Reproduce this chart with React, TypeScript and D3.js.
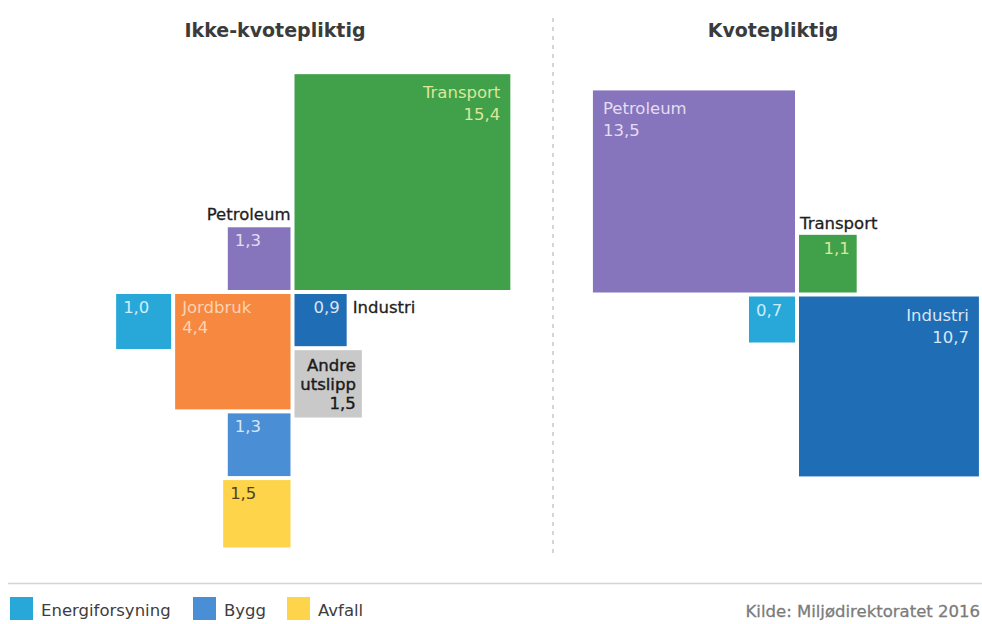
import React from "react";
import * as d3 from "d3";

// ---- Data ----
const panelTitles = ["Ikke-kvotepliktig", "Kvotepliktig"];
const leftCategories = ["Transport", "Petroleum", "Jordbruk", "Energiforsyning", "Bygg", "Avfall", "Industri", "Andre utslipp"];
const leftValues = [15.4, 1.3, 4.4, 1.0, 1.3, 1.5, 0.9, 1.5];
const rightCategories = ["Petroleum", "Transport", "Energiforsyning", "Industri"];
const rightValues = [13.5, 1.1, 0.7, 10.7];
const legendItems = ["Energiforsyning", "Bygg", "Avfall"];
const sourceText = "Kilde: Miljødirektoratet 2016";

// ---- Styles ----
const colors: Record<string, string> = {
  Transport: "#41a04a",
  Petroleum: "#8675bd",
  Jordbruk: "#f6883f",
  Energiforsyning: "#27a8d9",
  Bygg: "#4a8fd5",
  Avfall: "#fdd44a",
  Industri: "#1f6db5",
  "Andre utslipp": "#c9c9c9",
};
const textOn: Record<string, string> = {
  Transport: "#dbe79a",
  Petroleum: "#e4dcf3",
  Jordbruk: "#fcd3b3",
  Energiforsyning: "#cdeefa",
  Bygg: "#d6e6f8",
  Avfall: "#4f4420",
  Industri: "#d7e6f6",
  "Andre utslipp": "#1a1a1a",
};

const FONT = "'DejaVu Sans', 'Noto Sans', sans-serif";
const fmt = (v: number) => v.toFixed(1).replace(".", ",");

const side = d3.scaleSqrt().domain([0, 16]).range([0, 4 * 55]);
const GAP = 4;

type Rule = { quad?: "ul" | "ur" | "ll" | "lr"; after?: string; dir?: "left" | "down" };
type Lbl = {
  inside: "tl" | "tr";
  nameInside?: boolean;
  nameOut?: "aboveRight" | "aboveLeft" | "right";
  multi?: string[];
};

const leftRules: Record<string, Rule> = {
  Transport: { quad: "ur" },
  Petroleum: { quad: "ul" },
  Jordbruk: { quad: "ll" },
  Energiforsyning: { after: "Jordbruk", dir: "left" },
  Bygg: { after: "Jordbruk", dir: "down" },
  Avfall: { after: "Bygg", dir: "down" },
  Industri: { quad: "lr" },
  "Andre utslipp": { after: "Industri", dir: "down" },
};
const leftLabels: Record<string, Lbl> = {
  Transport: { inside: "tr", nameInside: true },
  Petroleum: { inside: "tl", nameOut: "aboveRight" },
  Jordbruk: { inside: "tl", nameInside: true },
  Energiforsyning: { inside: "tl" },
  Bygg: { inside: "tl" },
  Avfall: { inside: "tl" },
  Industri: { inside: "tr", nameOut: "right" },
  "Andre utslipp": { inside: "tr", multi: ["Andre", "utslipp"] },
};
const rightRules: Record<string, Rule> = {
  Petroleum: { quad: "ul" },
  Transport: { quad: "ur" },
  Energiforsyning: { quad: "ll" },
  Industri: { quad: "lr" },
};
const rightLabels: Record<string, Lbl> = {
  Petroleum: { inside: "tl", nameInside: true },
  Transport: { inside: "tr", nameOut: "aboveLeft" },
  Energiforsyning: { inside: "tl" },
  Industri: { inside: "tr", nameInside: true },
};

type Box = { name: string; value: number; x: number; y: number; s: number };

function layout(cats: string[], vals: number[], rules: Record<string, Rule>, cx: number, cy: number): Box[] {
  const placed: Record<string, Box> = {};
  const g = GAP / 2;
  cats.forEach((name, i) => {
    const s = side(vals[i]);
    const r = rules[name];
    let x = 0, y = 0;
    if (r.quad) {
      x = r.quad[1] === "l" ? cx - g - s : cx + g;
      y = r.quad[0] === "u" ? cy - g - s : cy + g;
    } else if (r.after) {
      const p = placed[r.after];
      if (r.dir === "down") {
        y = p.y + p.s + GAP;
        x = p.x + p.s <= cx ? p.x + p.s - s : p.x;
      } else {
        x = p.x - GAP - s;
        y = p.y;
      }
    }
    placed[name] = { name, value: vals[i], x, y, s };
  });
  return cats.map((c) => placed[c]);
}

function Panel({ boxes, labels }: { boxes: Box[]; labels: Record<string, Lbl> }) {
  return (
    <g>
      {boxes.map((b) => (
        <rect key={"r" + b.name} x={b.x} y={b.y} width={b.s} height={b.s} fill={colors[b.name]} />
      ))}
      {boxes.map((b) => {
        const l = labels[b.name];
        const big = b.s > 150;
        const padX = big ? 10 : 7;
        const base = big ? 24 : 19;
        const lh = big ? 22 : 20;
        const anchor = l.inside === "tr" ? "end" : "start";
        const tx = l.inside === "tr" ? b.x + b.s - padX : b.x + padX;
        const lines: string[] = [];
        if (l.multi) lines.push(...l.multi);
        else if (l.nameInside) lines.push(b.name);
        lines.push(fmt(b.value));
        const dark = b.name === "Andre utslipp";
        const out: React.ReactNode[] = [];
        lines.forEach((t, i) =>
          out.push(
            <text
              key={"t" + b.name + i}
              x={dark ? tx + 1 : tx}
              y={b.y + (dark ? 21 : base) + i * (dark ? 19 : lh)}
              textAnchor={anchor}
              fill={textOn[b.name]}
              fontSize={16.5}
              fontFamily={FONT}
              stroke={dark ? textOn[b.name] : "none"}
              strokeWidth={dark ? 0.4 : 0}
            >
              {t}
            </text>
          )
        );
        if (l.nameOut) {
          let nx = 0, ny = 0, na: "start" | "end" = "start";
          if (l.nameOut === "aboveRight") { nx = b.x + b.s; ny = b.y - 7; na = "end"; }
          if (l.nameOut === "aboveLeft") { nx = b.x + 1; ny = b.y - 6; na = "start"; }
          if (l.nameOut === "right") { nx = b.x + b.s + 6; ny = b.y + base; na = "start"; }
          out.push(
            <text key={"n" + b.name} x={nx} y={ny} textAnchor={na} fill="#1e1e1e" fontSize={16.5} fontFamily={FONT} stroke="#1e1e1e" strokeWidth={0.3}>
              {b.name}
            </text>
          );
        }
        return <g key={"g" + b.name}>{out}</g>;
      })}
    </g>
  );
}

export default function App() {
  const W = 982, H = 624;
  const leftBoxes = layout(leftCategories, leftValues, leftRules, 292.5, 292);
  const rightBoxes = layout(rightCategories, rightValues, rightRules, 797, 294.5);
  const legendX = [10, 193, 287];
  return (
    <svg width={W} height={H} style={{ position: "absolute", left: 0, top: 0, background: "#fff" }}>
      <rect width={W} height={H} fill="#fff" />
      <text x={275} y={37} textAnchor="middle" fontSize={19} fontWeight="bold" fill="#3b3b3b" fontFamily={FONT}>
        {panelTitles[0]}
      </text>
      <text x={773} y={37} textAnchor="middle" fontSize={19} fontWeight="bold" fill="#3b3b3b" fontFamily={FONT}>
        {panelTitles[1]}
      </text>
      <line x1={553} x2={553} y1={18} y2={556} stroke="#c8c8c8" strokeWidth={1.5} strokeDasharray="4 5" />
      <Panel boxes={leftBoxes} labels={leftLabels} />
      <Panel boxes={rightBoxes} labels={rightLabels} />
      <line x1={8} x2={982} y1={583.5} y2={583.5} stroke="#d4d4d4" strokeWidth={1.5} />
      {legendItems.map((name, i) => (
        <g key={name}>
          <rect x={legendX[i]} y={597} width={23} height={23} fill={colors[name]} />
          <text x={legendX[i] + 31} y={616} fontSize={16.5} fill="#3d3d3d" fontFamily={FONT}>
            {name}
          </text>
        </g>
      ))}
      <text x={980} y={617} textAnchor="end" fontSize={16.5} fill="#7b7b7b" fontFamily={FONT} stroke="#7b7b7b" strokeWidth={0.3}>
        {sourceText}
      </text>
    </svg>
  );
}
